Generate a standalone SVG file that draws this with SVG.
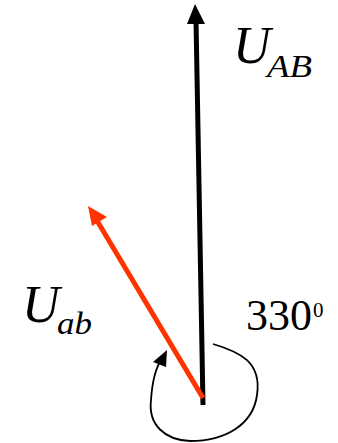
<svg xmlns="http://www.w3.org/2000/svg" width="338" height="443" viewBox="0 0 338 443">
<style>
text{font-family:'Liberation Serif','Times New Roman',serif;fill:#000}
.i{font-style:italic}
</style>
<rect width="338" height="443" fill="#fff"/>
<g id="connectors">
<g id="UAB-vector">
<line x1="203" y1="405" x2="196" y2="20" stroke="#000" stroke-width="5"/>
<polygon points="195,4 205,24 187,24" fill="#000"/>
</g>
<g id="Uab-vector">
<line x1="203" y1="398" x2="96" y2="219" stroke="#FF3300" stroke-width="5"/>
<polygon points="88,206 107,217 92,226" fill="#FF3300"/>
</g>
<g id="angle-arc">
<path d="M213,344 C240,352 262,362 257,395 C253,425 225,441 190,441 C165,440 148,425 151,400 C152,385 154,372 160,362" fill="none" stroke="#000" stroke-width="1.8"/>
<polygon points="167,350 153,362 166,367" fill="#000"/>
</g>
</g>
<g id="label-UAB">
<text class="i" x="233" y="63" font-size="52">U</text>
<text class="i" x="267" y="77" font-size="31" textLength="45" lengthAdjust="spacingAndGlyphs">AB</text>
</g>
<g id="label-Uab">
<text class="i" x="22" y="322" font-size="52">U</text>
<text class="i" x="57" y="334" font-size="31" textLength="35" lengthAdjust="spacingAndGlyphs">ab</text>
</g>
<g id="label-angle">
<text x="246" y="330" font-size="44">330<tspan dx="1" dy="-13" font-size="21">0</tspan></text>
</g>
</svg>
